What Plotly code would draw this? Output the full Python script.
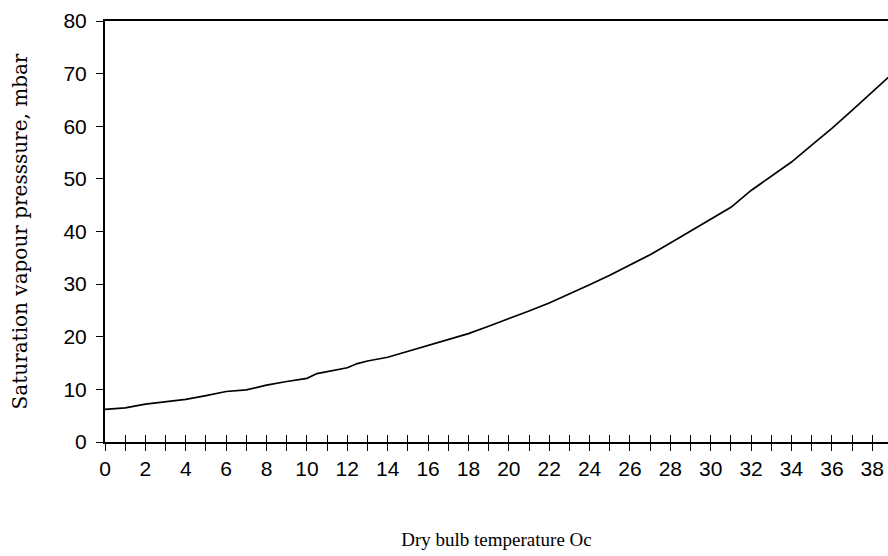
import plotly.graph_objects as go

# Data
temperature = [0, 1, 2, 3, 4, 5, 6, 7, 8, 9, 10, 10.5, 11, 12, 12.5, 13, 14, 15, 16, 17, 18, 19,
               20, 21, 22, 23, 24, 25, 26, 27, 28, 29, 30, 31, 32, 33, 34, 35, 36, 37, 38, 39]
pressure = [6.2, 6.5, 7.2, 7.7, 8.1, 8.8, 9.6, 9.9, 10.8, 11.5, 12.1, 13.0, 13.4, 14.1, 14.9, 15.4,
            16.1, 17.2, 18.3, 19.4, 20.6, 22.0, 23.4, 24.9, 26.4, 28.1, 29.9, 31.7, 33.6, 35.6,
            37.8, 40.1, 42.3, 44.6, 47.8, 50.5, 53.2, 56.4, 59.6, 63.0, 66.5, 70.0]
x_ticks = list(range(0, 40))
x_tick_labels = [str(v) if v % 2 == 0 else "" for v in x_ticks]
y_ticks = [0, 10, 20, 30, 40, 50, 60, 70, 80]

x_title = "Dry bulb temperature Oc"
y_title = "Saturation vapour presssure, mbar"

XR = [0, 38.78]

fig = go.Figure()
fig.add_trace(go.Scatter(x=temperature, y=pressure, mode="lines",
                         line=dict(color="black", width=1.7), showlegend=False,
                         hoverinfo="skip"))
# invisible trace to anchor the overlay axis (inside half of crossing ticks)
fig.add_trace(go.Scatter(x=[temperature[0]], y=[pressure[0]], xaxis="x2", mode="markers",
                         marker=dict(opacity=0), showlegend=False, hoverinfo="skip"))

tick_font = dict(family="Liberation Sans, Arial, sans-serif", size=21, color="black")
xtitle_font = dict(family="Liberation Serif, Times New Roman, serif", size=19, color="black")
ytitle_font = dict(family="DejaVu Serif, serif", size=20, color="black")

fig.update_layout(
    width=888, height=556,
    margin=dict(l=105, r=0, t=21, b=114, autoexpand=False),
    paper_bgcolor="white", plot_bgcolor="white",
    xaxis=dict(range=XR, tickmode="array", tickvals=x_ticks, ticktext=x_tick_labels,
               ticks="outside", ticklen=7, tickwidth=1, tickcolor="black",
               showline=True, linecolor="black", linewidth=1.5, mirror=True,
               showgrid=False, zeroline=False, tickfont=tick_font, automargin=False,
               ticklabelstandoff=0,
               title=dict(text=x_title, font=xtitle_font, standoff=54)),
    xaxis2=dict(range=XR, overlaying="x", anchor="y", side="bottom",
                tickmode="array", tickvals=x_ticks, ticktext=["" for _ in x_ticks],
                ticks="inside", ticklen=7, tickwidth=1, tickcolor="black",
                showline=False, showgrid=False, zeroline=False, showticklabels=False,
                automargin=False),
    yaxis=dict(range=[0, 80], tickmode="array", tickvals=y_ticks,
               ticks="outside", ticklen=7, tickwidth=1, tickcolor="black",
               showline=True, linecolor="black", linewidth=2,
               showgrid=False, zeroline=False, tickfont=tick_font, ticklabelstandoff=5,
               automargin=False,
               title=dict(text=y_title, font=ytitle_font, standoff=30)),
)

fig.write_html("out.html", config={"displayModeBar": False},
               post_script="document.body.style.margin='0';document.body.style.overflow='hidden';")
